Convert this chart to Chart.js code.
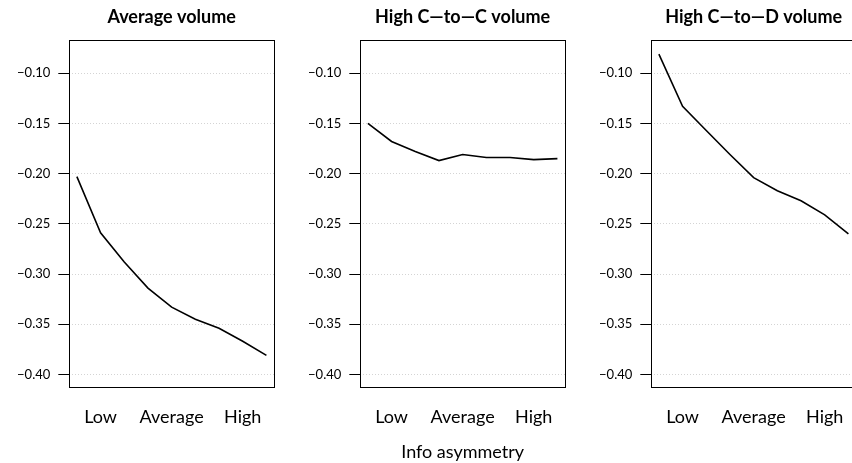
<!DOCTYPE html>
<html>
<head>
<meta charset="utf-8">
<script src="https://cdn.jsdelivr.net/npm/chart.js@4"></script>
<style>
    html, body { margin: 0; padding: 0; background: #fff; overflow: hidden; }
    #wrap { position: relative; width: 852px; height: 463px; overflow: hidden; }
    canvas { position: absolute; top: 0; }
</style>
</head>
<body>
<div id="wrap">
    <canvas id="p0" width="291" height="463" style="left:0px"></canvas>
    <canvas id="p1" width="291" height="463" style="left:291px"></canvas>
    <canvas id="p2" width="291" height="463" style="left:582px"></canvas>
</div>
<script>
// info asymmetry levels (1 = lowest ... 9 = highest)
var levels = [1, 2, 3, 4, 5, 6, 7, 8, 9];
var xTickPos = [2, 5, 8];
var xTickLabels = ["Low", "Average", "High"];
var yTicks = [-0.40, -0.35, -0.30, -0.25, -0.20, -0.15, -0.10];

var panelTitles = ["Average volume", "High C\u2014to\u2014C volume", "High C\u2014to\u2014D volume"];
var avgVolume = [-0.203, -0.259, -0.288, -0.314, -0.333, -0.345, -0.354, -0.367, -0.381];
var highCtoC = [-0.150, -0.168, -0.178, -0.187, -0.181, -0.184, -0.184, -0.186, -0.185];
var highCtoD = [-0.081, -0.133, -0.157, -0.181, -0.204, -0.217, -0.227, -0.241, -0.260];
var xAxisTitle = "Info asymmetry";

var series = [avgVolume, highCtoC, highCtoD];
var FONT = "Lato";

var framePlugin = {
    id: "frame",
    afterDraw: function (chart) {
        var a = chart.chartArea;
        var ctx = chart.ctx;
        ctx.save();
        ctx.strokeStyle = "#000";
        ctx.lineWidth = 1;
        ctx.strokeRect(Math.round(a.left) + 0.5, Math.round(a.top) + 0.5,
            Math.round(a.right - a.left), Math.round(a.bottom - a.top));
        ctx.restore();
    }
};

function makePanel(i) {
    var ctx = document.getElementById("p" + i).getContext("2d");
    var pts = levels.map(function (x, k) { return { x: x, y: series[i][k] }; });
    return new Chart(ctx, {
        type: "line",
        data: {
            datasets: [{
                data: pts,
                borderColor: "#000",
                borderWidth: 1.6,
                pointRadius: 0,
                tension: 0,
                fill: false
            }]
        },
        plugins: [framePlugin],
        options: {
            responsive: false,
            animation: false,
            devicePixelRatio: 1,
            layout: { padding: { left: 0, right: 17, top: 0, bottom: 0 } },
            plugins: {
                legend: { display: false },
                tooltip: { enabled: false },
                title: {
                    display: true,
                    text: panelTitles[i],
                    fullSize: false,
                    color: "#000",
                    font: { family: FONT, size: 18, weight: "bold" },
                    padding: { top: 6, bottom: 12.7 }
                }
            },
            scales: {
                x: {
                    type: "linear",
                    min: 0.68,
                    max: 9.32,
                    afterBuildTicks: function (s) {
                        s.ticks = xTickPos.map(function (v) { return { value: v }; });
                    },
                    afterFit: function (s) { s.height = 75.7; },
                    ticks: {
                        color: "#000",
                        font: { family: FONT, size: 18 },
                        padding: 19,
                        maxRotation: 0,
                        autoSkip: false,
                        callback: function (v) {
                            var k = xTickPos.indexOf(v);
                            return k >= 0 ? xTickLabels[k] : "";
                        }
                    },
                    grid: { display: false, drawTicks: false },
                    border: { display: false },
                    title: {
                        display: i === 1,
                        text: xAxisTitle,
                        color: "#000",
                        font: { family: FONT, size: 18 },
                        padding: { top: 0, bottom: 0 }
                    }
                },
                y: {
                    type: "linear",
                    min: -0.4128,
                    max: -0.0672,
                    afterBuildTicks: function (s) {
                        s.ticks = yTicks.map(function (v) { return { value: v }; });
                    },
                    afterFit: function (s) { s.width = 69.3; },
                    ticks: {
                        color: "#000",
                        font: { family: FONT, size: 13 },
                        padding: 8,
                        callback: function (v) {
                            return (v < 0 ? "\u2212" : "") + Math.abs(v).toFixed(2);
                        }
                    },
                    grid: {
                        color: "#d4d4d4",
                        lineWidth: 1,
                        tickColor: "#000",
                        tickLength: 11,
                        tickWidth: 1,
                        tickBorderDash: [],
                        dash: [1, 2]
                    },
                    border: { display: false, dash: [1, 2] }
                }
            }
        }
    });
}

for (var i = 0; i < 3; i++) {
    makePanel(i);
}
</script>
</body>
</html>
